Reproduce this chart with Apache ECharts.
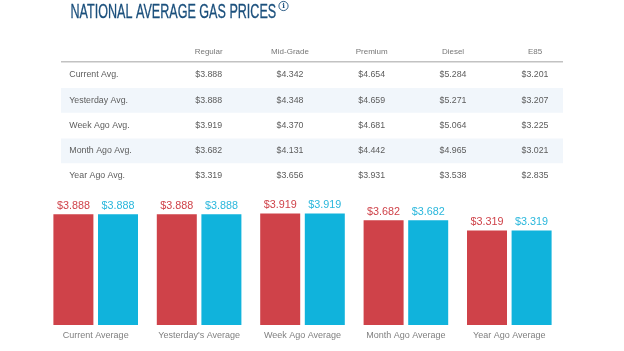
<!DOCTYPE html>
<html><head><meta charset="utf-8">
<style>html,body{margin:0;padding:0;background:#fff}#c{width:624px;height:351px}</style>
<script src="https://cdn.jsdelivr.net/npm/echarts@6/dist/echarts.min.js"></script>
</head><body><div id="c"></div>
<script>
const fuelGrades = ["Regular","Mid-Grade","Premium","Diesel","E85"];
const rowLabels = ["Current Avg.","Yesterday Avg.","Week Ago Avg.","Month Ago Avg.","Year Ago Avg."];
const currentRow = ["$3.888","$4.342","$4.654","$5.284","$3.201"];
const yesterdayRow = ["$3.888","$4.348","$4.659","$5.271","$3.207"];
const weekAgoRow = ["$3.919","$4.370","$4.681","$5.064","$3.225"];
const monthAgoRow = ["$3.682","$4.131","$4.442","$4.965","$3.021"];
const yearAgoRow = ["$3.319","$3.656","$3.931","$3.538","$2.835"];
const categories = ["Current Average","Yesterday's Average","Week Ago Average","Month Ago Average","Year Ago Average"];
const redValues = [3.888,3.888,3.919,3.682,3.319];
const blueValues = [3.888,3.888,3.919,3.682,3.319];

const tableRows = [currentRow,yesterdayRow,weekAgoRow,monthAgoRow,yearAgoRow];
const colX = [208.7,290,371.7,453,535];
const rowY = [74,99.5,125,150,175];
const sans = '"Liberation Sans",Arial,sans-serif';
const g = [];
[1,3].forEach(i=>g.push({type:'rect',shape:{x:61,y:rowY[i]-11.5,width:502,height:24.7},style:{fill:'#f1f6fb'}}));
g.push({type:'rect',shape:{x:61,y:61,width:502,height:1.4},style:{fill:'#c2c2c2'}});
fuelGrades.forEach((t,i)=>g.push({type:'text',x:colX[i],y:52,style:{text:t,fill:'#777',font:'8px '+sans,align:'center',verticalAlign:'middle'}}));
rowLabels.forEach((t,r)=>{
  g.push({type:'text',x:69.3,y:rowY[r]+0.6,style:{text:t,fill:'#5c5c5c',font:'8.8px '+sans,align:'left',verticalAlign:'middle'}});
  tableRows[r].forEach((v,i)=>g.push({type:'text',x:colX[i],y:rowY[r]+0.6,style:{text:v,fill:'#5c5c5c',font:'8.8px '+sans,align:'center',verticalAlign:'middle'}}));
});
g.push({type:'text',x:70.5,y:12.5,scaleX:0.645,style:{text:'NATIONAL AVERAGE GAS PRICES',fill:'#1a4f7c',stroke:'#1a4f7c',lineWidth:0.3,font:'19.5px '+sans,align:'left',verticalAlign:'middle'}});
g.push({type:'circle',shape:{cx:283.5,cy:6,r:4.6},style:{fill:'#fff',stroke:'#1a4f7c',lineWidth:0.9}});
g.push({type:'text',x:283.5,y:6,style:{text:'i',fill:'#1a4f7c',font:'bold 7px "DejaVu Serif",serif',align:'center',verticalAlign:'middle'}});

const chart = echarts.init(document.getElementById('c'),null,{renderer:'canvas'});
chart.setOption({
  animation:false,
  backgroundColor:'#fff',
  grid:{left:44,right:63,top:199.7,bottom:26,containLabel:false},
  xAxis:{type:'category',data:categories,axisLine:{show:false},axisTick:{show:false},
    axisLabel:{color:'#808080',fontSize:9,fontFamily:sans,margin:6,interval:0}},
  yAxis:{type:'value',min:0,max:4.4,show:false,splitLine:{show:false}},
  series:[
    {type:'bar',data:redValues,barWidth:40,barGap:'11.5%',itemStyle:{color:'#cf4249'},
      label:{show:true,position:'top',distance:3,color:'#cf4249',fontSize:10.8,fontFamily:sans,formatter:p=>'$'+p.value.toFixed(3)}},
    {type:'bar',data:blueValues,barWidth:40,itemStyle:{color:'#10b3dc'},
      label:{show:true,position:'top',distance:3,color:'#2ab7dc',fontSize:10.8,fontFamily:sans,formatter:p=>'$'+p.value.toFixed(3)}}
  ],
  graphic:g
});
</script></body></html>
